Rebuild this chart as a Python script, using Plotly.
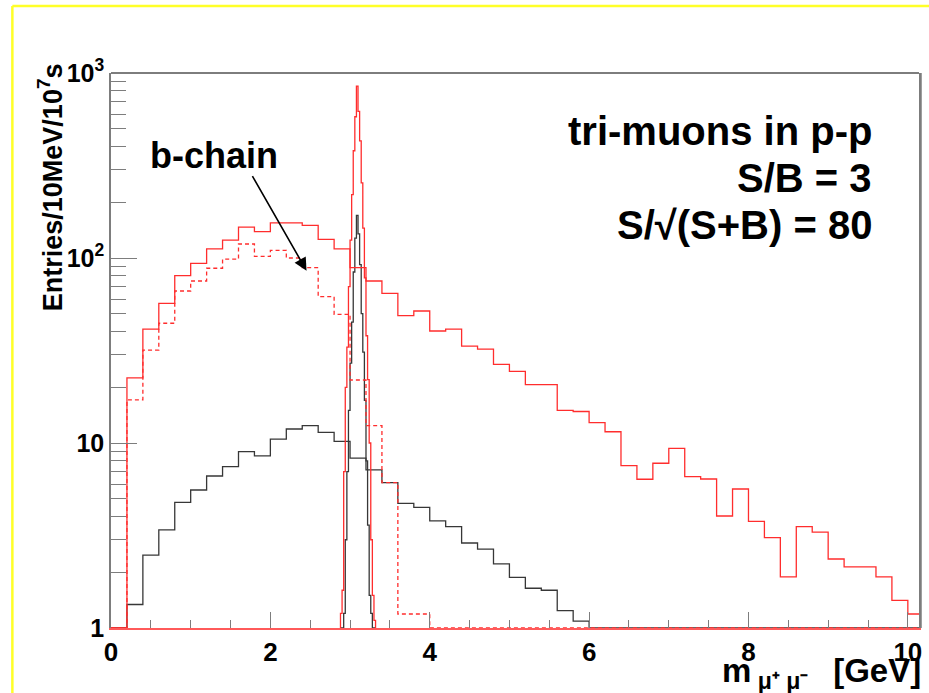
import numpy as np
import plotly.graph_objects as go

# ---------------- data ----------------
bin_width = 0.2
n_bins = 51  # 0.0 ... 10.2 GeV

# total (red solid), entries per bin starting at 0.0 GeV
total = [0, 22.5, 41.3, 56.9, 80.3, 93.6, 112, 125, 147, 139,
         155, 155, 150, 126, 112, 88.6, 75.1, 64.4, 48.8, 51.7,
         40.3, 41.3, 33.4, 32.2, 26.6, 24.4, 20.7, 20.7, 15.0, 14.8,
         12.9, 11.5, 7.54, 6.37, 7.77, 9.36, 6.58, 6.39, 4.03, 5.64,
         3.77, 3.08, 1.89, 3.53, 3.30, 2.36, 2.14, 2.14, 1.89, 1.41,
         1.19]

# b-chain (red dashed)
bchain = [0, 17.1, 31.8, 44.4, 66.3, 75.1, 88, 98.5, 119, 102,
          110, 100, 88.6, 61.8, 49.6, 21.9, 12.4, 6.1, 1.19, 1.19] + [0] * 31

# other component (black solid)
other = [0, 1.34, 2.48, 3.39, 4.78, 5.57, 6.63, 7.45, 8.98, 8.51,
         10.5, 11.9, 12.4, 11.4, 10.2, 8.28, 7.15, 6.1, 4.72, 4.49,
         3.79, 3.53, 2.88, 2.67, 2.22, 1.88, 1.64, 1.60, 1.24, 1.09] + [0] * 21

# J/psi peaks, fine bins of 0.02 GeV starting at 2.88 GeV
peak_start = 2.88
peak_width = 0.02
peak_red = [1.2, 1.6, 7, 20, 33, 70, 125, 220, 380, 580, 850,
            620, 430, 255, 145, 78, 38, 22, 10, 3, 1.5, 1.1]
peak_black = [0, 0, 1.2, 3, 7, 15, 27, 45, 84, 128, 170,
              135, 92, 50, 31, 17, 8, 3.6, 1.5, 1.2, 0, 0]

x_major_ticks = [0, 2, 4, 6, 8, 10]
y_tick_vals = [1, 10, 100, 1000]
y_tick_text = ["1", "10", "10<sup>2</sup>", "10<sup>3</sup>"]
y_minor_vals = [m * 10 ** d for d in range(3) for m in range(2, 10)]

info_lines = ["tri-muons in p-p", "S/B = 3", "S/√(S+B) = 80"]

# ---------------- helpers ----------------
Y_FLOOR = 1.0  # axis minimum: empty bins are drawn on the bottom line


def coarse_steps(values):
    edges = np.round(np.arange(n_bins + 1) * bin_width, 4)
    v = np.maximum(np.array(values, dtype=float), Y_FLOOR)
    x = list(edges[:-1]) + [edges[-1]]
    y = list(v) + [v[-1]]
    return x, y


def peak_steps(values):
    n = len(values)
    edges = np.round(peak_start + np.arange(n + 1) * peak_width, 4)
    v = np.maximum(np.array(values, dtype=float), Y_FLOOR)
    x = [edges[0]] + list(edges[:-1]) + [edges[-1]]
    y = [Y_FLOOR] + list(v) + [Y_FLOOR]
    return x, y


RED = "rgb(255,45,45)"
BLACK = "rgb(55,55,55)"
GRAY = "rgb(125,125,125)"
FONT = "Liberation Sans"

fig = go.Figure()

x, y = coarse_steps(other)
fig.add_trace(go.Scatter(x=x, y=y, mode="lines", line=dict(color=BLACK, width=1.3, shape="hv")))
x, y = peak_steps(peak_black)
fig.add_trace(go.Scatter(x=x, y=y, mode="lines", line=dict(color=BLACK, width=1.3, shape="hv")))
x, y = coarse_steps(bchain)
fig.add_trace(go.Scatter(x=x, y=y, mode="lines",
                         line=dict(color=RED, width=1.3, shape="hv", dash="4px,3px")))
x, y = coarse_steps(total)
fig.add_trace(go.Scatter(x=x, y=y, mode="lines", line=dict(color=RED, width=1.3, shape="hv")))
x, y = peak_steps(peak_red)
fig.add_trace(go.Scatter(x=x, y=y, mode="lines", line=dict(color=RED, width=1.3, shape="hv")))

W, H = 929, 693
ML, MR, MT, MB = 111, 7, 73, 65
PW, PH = W - ML - MR, H - MT - MB


def px(xp):
    return (xp - ML) / PW


def py(yp):
    return (H - MB - yp) / PH


annotations = []
for i, line in enumerate(info_lines):
    annotations.append(dict(text="<b>%s</b>" % line, xref="paper", yref="paper",
                            x=px(877), y=py(131 + 47 * i), xanchor="right", yanchor="middle",
                            showarrow=False, font=dict(family=FONT, size=40, color="black")))
annotations += [
    dict(text="<b>b-chain</b>", xref="paper", yref="paper", x=px(214), y=py(155),
         xanchor="center", yanchor="middle", showarrow=False,
         font=dict(family=FONT, size=36, color="black")),
    dict(text="", x=2.454, y=np.log10(85.4), xref="x", yref="y",
         showarrow=True, ax=-55, ay=-96, axref="pixel", ayref="pixel",
         arrowhead=2, arrowsize=1.6, arrowwidth=1.6, arrowcolor="black", standoff=0),
    dict(text="<b>Entries/10MeV/10<sup>7</sup>s</b>", xref="paper", yref="paper",
         x=px(50), y=py(61), xanchor="center", yanchor="top", textangle=-90,
         showarrow=False, font=dict(family=FONT, size=27, color="black")),
    dict(text="<b>m<sub>&nbsp;μ⁺&nbsp;μ⁻&nbsp;</sub>&nbsp;&nbsp;[GeV]</b>", xref="paper", yref="paper",
         x=px(926), y=py(650), xanchor="right", yanchor="top",
         showarrow=False, font=dict(family=FONT, size=33, color="black")),
]

fig.update_layout(
    width=W, height=H,
    margin=dict(l=ML, r=MR, t=MT, b=MB, pad=0),
    paper_bgcolor="white", plot_bgcolor="white",
    showlegend=False,
    font=dict(family=FONT, color="black"),
    xaxis=dict(
        range=[0, 10.14], showgrid=False, zeroline=False,
        showline=True, linecolor="rgb(255,90,90)", linewidth=1.6, mirror=False,
        ticks="inside", ticklen=16, tickwidth=1.4, tickcolor=GRAY,
        tickvals=x_major_ticks, ticktext=[str(v) for v in x_major_ticks],
        tickfont=dict(family=FONT, size=26, color="black", weight="bold"),
        minor=dict(ticks="inside", dtick=0.5, ticklen=8, tickwidth=1.2, tickcolor=GRAY, showgrid=False),
    ),
    yaxis=dict(
        type="log", range=[0, 3], showgrid=False, zeroline=False,
        showline=True, linecolor=GRAY, linewidth=1.6, mirror=True,
        ticks="inside", ticklen=26, tickwidth=1.4, tickcolor=GRAY,
        tickvals=y_tick_vals, ticktext=y_tick_text,
        tickfont=dict(family=FONT, size=25, color="black", weight="bold"),
        minor=dict(ticks="inside", tickvals=y_minor_vals, ticklen=15, tickwidth=1.2,
                   tickcolor=GRAY, showgrid=False),
    ),
    shapes=[
        dict(type="line", xref="paper", yref="paper", x0=0, x1=1, y0=1, y1=1,
             line=dict(color=GRAY, width=1.8)),
        dict(type="line", xref="paper", yref="paper", x0=px(923.5), x1=px(923.5), y0=0, y1=1,
             line=dict(color=GRAY, width=2.5)),
        dict(type="line", xref="paper", yref="paper", x0=px(12), x1=1.3, y0=py(6), y1=py(6),
             line=dict(color="rgb(255,255,40)", width=2.5)),
        dict(type="line", xref="paper", yref="paper", x0=px(12), x1=px(12), y0=py(6), y1=-0.3,
             line=dict(color="rgb(255,255,40)", width=2.5)),
    ],
    annotations=annotations,
)

fig.write_html("out.html")
